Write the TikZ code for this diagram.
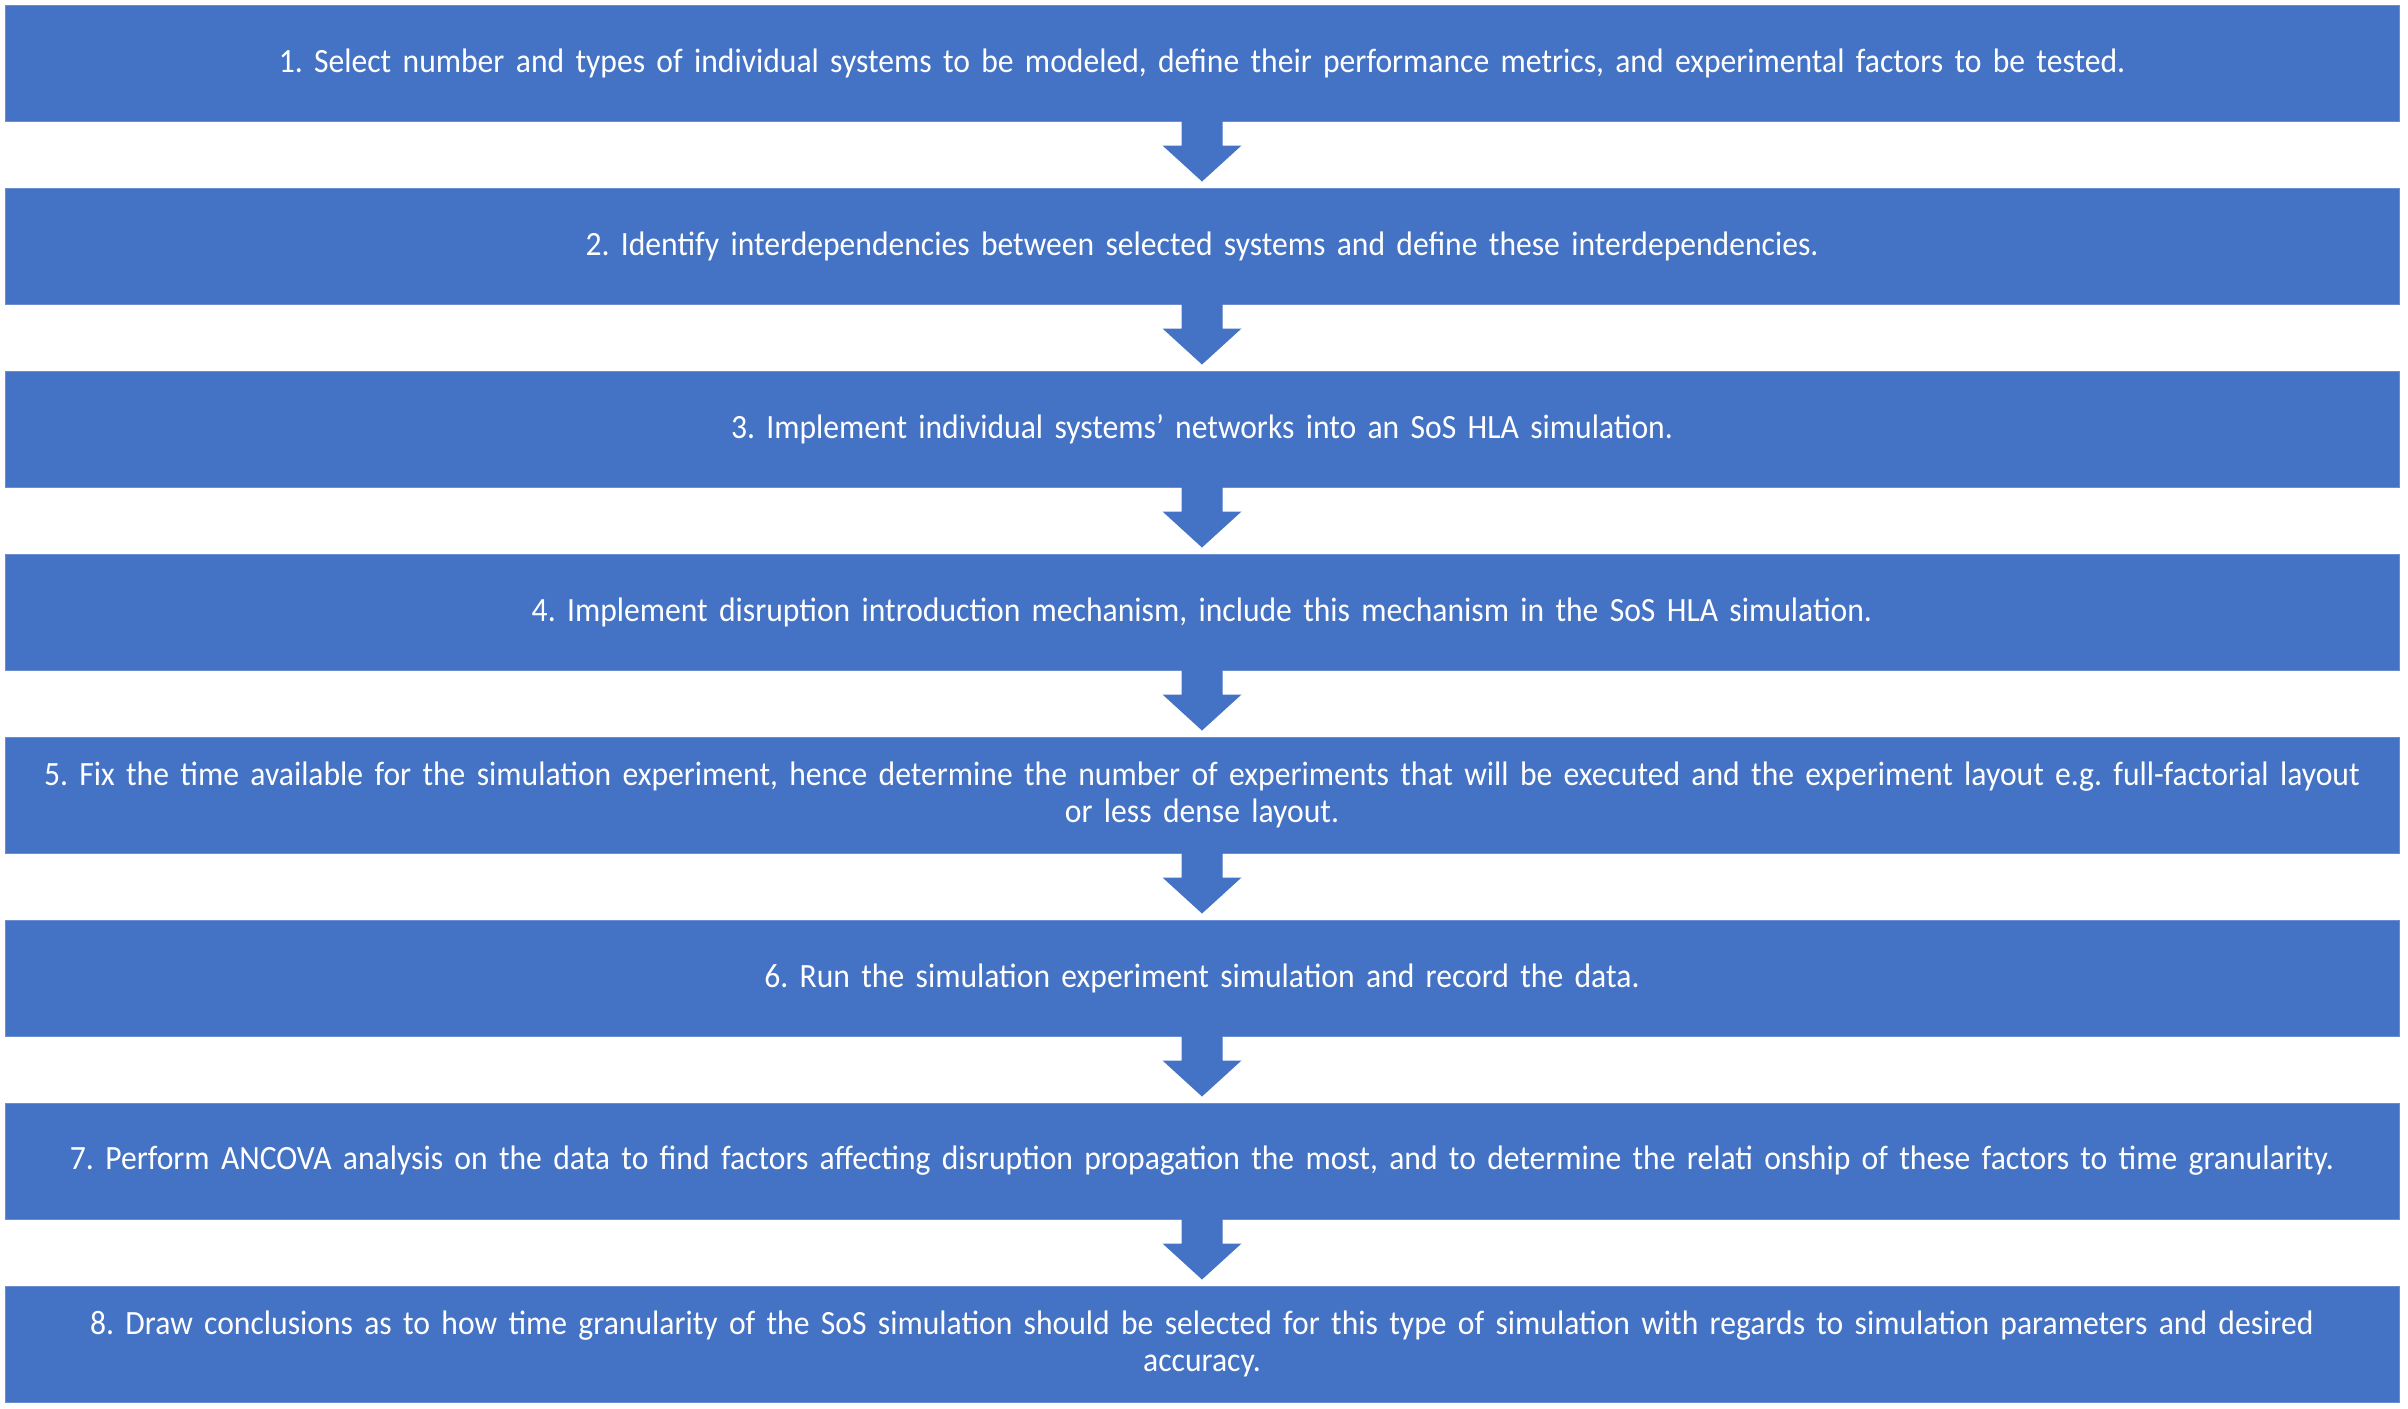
\documentclass[tikz,border=0pt]{standalone}
\usepackage{fontspec}
\setmainfont{Carlito}[FakeStretch=0.93,WordSpace=0.85]
\usetikzlibrary{calc}
\definecolor{boxblue}{HTML}{4472C4}
\definecolor{boxedge}{HTML}{6A8ED0}
\begin{document}
\frenchspacing
\hyphenpenalty=10000
\exhyphenpenalty=10000
\begin{tikzpicture}[x=0.3pt,y=-0.3pt,
  stepbox/.style={fill=boxblue,draw=boxedge,line width=0.3pt,
    minimum width=718.2pt,minimum height=34.8pt,inner sep=0pt,
    text width=717pt,align=center,text=white,
    font=\fontsize{10.2}{11.1}\selectfont},
  arrowfill/.style={fill=boxblue,draw=none}]
\useasboundingbox (0,0) rectangle (2408,1408);
\fill[white] (0,0) rectangle (2408,1408);
\node[stepbox] (b1) at (1202,63) {1. Select number and types of individual systems to be modeled, define their performance metrics, and experimental factors to be tested.};
\node[stepbox] (b2) at (1202,246) {2. Identify interdependencies between selected systems and define these interdependencies.};
\node[stepbox] (b3) at (1202,429) {3. Implement individual systems’ networks into an SoS HLA simulation.};
\node[stepbox] (b4) at (1202,612) {4. Implement disruption introduction mechanism, include this mechanism in the SoS HLA simulation.};
\node[stepbox] (b5) at (1202,795) {5. Fix the time available for the simulation experiment, hence determine the number of experiments that will be executed and the experiment layout e.g. full-factorial layout\\or less dense layout.};
\node[stepbox] (b6) at (1202,978) {6. Run the simulation experiment simulation and record the data.};
\node[stepbox] (b7) at (1202,1161) {7. Perform ANCOVA analysis on the data to find factors affecting disruption propagation the most, and to determine the relati onship of these factors to time granularity.};
\node[stepbox] (b8) at (1202,1344) {8. Draw conclusions as to how time granularity of the SoS simulation should be selected for this type of simulation with regards to simulation parameters and desired\\accuracy.};
\foreach \a/\b in {b1/b2,b2/b3,b3/b4,b4/b5,b5/b6,b6/b7,b7/b8}{
  \fill[arrowfill] ($(\a.south)+(-20.5,-1)$) -- ($(\a.south)+(-20.5,24)$) -- ($(\a.south)+(-39.5,24)$)
    -- ($(\b.north)+(0,-6)$) -- ($(\a.south)+(39.5,24)$) -- ($(\a.south)+(20.5,24)$)
    -- ($(\a.south)+(20.5,-1)$) -- cycle;
}
\end{tikzpicture}
\end{document}
